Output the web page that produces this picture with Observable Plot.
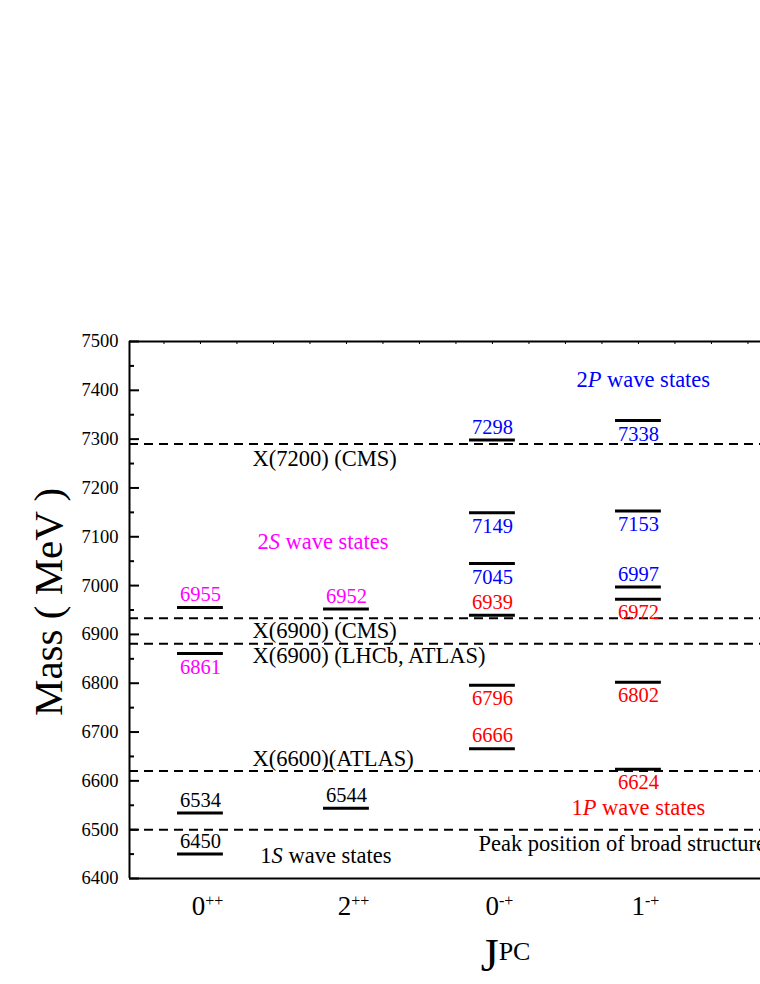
<!DOCTYPE html>
<html><head><meta charset="utf-8">
<script src="https://cdn.jsdelivr.net/npm/d3@7"></script>
<script src="https://cdn.jsdelivr.net/npm/@observablehq/plot@0.6"></script>
<style>
html,body{margin:0;padding:0;background:#fff;}
#chart{width:760px;height:984px;overflow:hidden;}
</style></head><body><div id="chart"></div>
<script>
// ---- data ----
const categories = ["0++", "2++", "0-+", "1-+"];
const stateJpc  = ["0++","0++","0++","0++","2++","2++","0-+","0-+","0-+","0-+","0-+","0-+","1-+","1-+","1-+","1-+","1-+","1-+"];
const stateMass = [6450, 6534, 6861, 6955, 6544, 6952, 6666, 6796, 6939, 7045, 7149, 7298, 6624, 6802, 6972, 6997, 7153, 7338];
const stateWave = ["1S","1S","2S","2S","1S","2S","1P","1P","1P","2P","2P","2P","1P","1P","1P","2P","2P","2P"];
const labelSide = ["above","above","below","above","above","above","above","below","above","below","below","above","below","below","below","above","below","below"];
const refMass   = [7290, 6933, 6881, 6620, 6500];
const noteText  = ["X(7200) (CMS)", "X(6900) (CMS)", "X(6900) (LHCb, ATLAS)", "X(6600)(ATLAS)", "Peak position of broad structure",
                   "1S wave states", "2S wave states", "1P wave states", "2P wave states"];
const noteX     = [1.356, 1.356, 1.356, 1.356, 2.904, 1.41, 1.39, 3.541, 3.575];   // J^PC axis units
const noteMass  = [7260, 6907, 6856, 6645, 6472, 6447, 7090, 6545, 7422];
const noteWave  = ["", "", "", "", "", "1S", "2S", "1P", "2P"];
const yTicksMajor = d3.range(6400, 7501, 100);
const yTicksMinor = d3.range(6450, 7500, 100);
const xLabel = "JPC";
const yLabel = "Mass ( MeV )";

// ---- table ----
const waveColor = {"1S": "#000000", "2S": "#ff00ff", "1P": "#ff0000", "2P": "#0000ff", "": "#000000"};
const catIndex = c => categories.indexOf(c) + 1;
const states = stateMass.map((m, i) => ({jpc: stateJpc[i], u: catIndex(stateJpc[i]), mass: m, wave: stateWave[i], side: labelSide[i]}));
const notes = noteText.map((t, i) => ({text: t, u: noteX[i], mass: noteMass[i], wave: noteWave[i]}));

const xDomain = [0.514, 4.836];
const halfBar = 0.157;
const topTicks = d3.range(0.75, xDomain[1], 0.25);
const FONT = "'Liberation Serif', 'Times New Roman', Times, serif";

const svg = Plot.plot({
  width: 760, height: 984,
  marginLeft: 129, marginRight: 0, marginTop: 341, marginBottom: 106,
  style: {fontFamily: FONT, background: "#fff", color: "#000", overflow: "visible"},
  x: {domain: xDomain, axis: null},
  y: {domain: [6400, 7500], axis: null},
  marks: [
    // reference (dashed) lines
    Plot.ruleY(refMass, {stroke: "#000", strokeWidth: 2, strokeDasharray: "9,6"}),
    // frame: left axis, top and bottom
    Plot.ruleX([xDomain[0]], {stroke: "#000", strokeWidth: 2}),
    Plot.ruleY([6400, 7500], {stroke: "#000", strokeWidth: 2}),
    // y ticks (inward)
    Plot.ruleY(yTicksMajor, {stroke: "#000", strokeWidth: 2, insetRight: 621}),
    Plot.ruleY(yTicksMinor, {stroke: "#000", strokeWidth: 2, insetRight: 626}),
    // top minor ticks
    Plot.ruleX(topTicks, {y1: 7500, y2: 6400, stroke: "#000", strokeWidth: 1, insetBottom: 534}),
    // y tick labels
    Plot.text(yTicksMajor, {y: d => d, text: d => String(d), frameAnchor: "left", textAnchor: "end", dx: -11, fontSize: 18.5, fill: "#000"}),
    // y title
    Plot.text([yLabel], {text: d => d, frameAnchor: "left", textAnchor: "middle", rotate: -90, dx: -81, dy: -8, fontSize: 41, fill: "#000"}),
    // x tick labels
    Plot.text(categories, {x: (d, i) => i + 1, y: () => 6400, text: d => d, dy: 28, dx: 7, fontSize: 27, fill: "#000"}),
    // x title
    Plot.text([xLabel], {x: () => 3.09, y: () => 6400, text: d => d, dy: 78, fontSize: 46, fill: "#000"}),
    // state levels
    Plot.ruleY(states, {y: "mass", x1: d => d.u - halfBar, x2: d => d.u + halfBar, stroke: "#000", strokeWidth: 3}),
    // state labels
    Plot.text(states.filter(d => d.side === "above"), {x: "u", y: "mass", text: d => String(d.mass), dy: -13, fontSize: 20.5, fill: d => waveColor[d.wave]}),
    Plot.text(states.filter(d => d.side === "below"), {x: "u", y: "mass", text: d => String(d.mass), dy: 13.5, fontSize: 20.5, fill: d => waveColor[d.wave]}),
    // annotations
    Plot.text(notes, {x: "u", y: "mass", text: "text", textAnchor: "start", fontSize: 22.5, fill: d => waveColor[d.wave]})
  ]
});

// post-process: superscripts and italics as real text
const NS = "http://www.w3.org/2000/svg";
function tspan(parent, txt, attrs) {
  const t = document.createElementNS(NS, "tspan");
  t.textContent = txt;
  for (const k in attrs) t.setAttribute(k, attrs[k]);
  parent.appendChild(t);
  return t;
}
svg.querySelectorAll("text").forEach(el => {
  const s = el.textContent;
  let m;
  if ((m = s.match(/^(\d)([+-]{2})$/))) {
    el.textContent = "";
    tspan(el, m[1], {});
    tspan(el, m[2], {"font-size": 16, dy: "-0.55em"});
  } else if (s === xLabel) {
    el.textContent = "";
    tspan(el, "J", {});
    tspan(el, "PC", {"font-size": 26, dy: "-0.42em"});
  } else if ((m = s.match(/^(\d)([SP])( wave states)$/))) {
    el.textContent = "";
    tspan(el, m[1], {});
    tspan(el, m[2], {"font-style": "italic"});
    tspan(el, m[3], {});
  }
});
document.getElementById("chart").appendChild(svg);
</script>
</body></html>
